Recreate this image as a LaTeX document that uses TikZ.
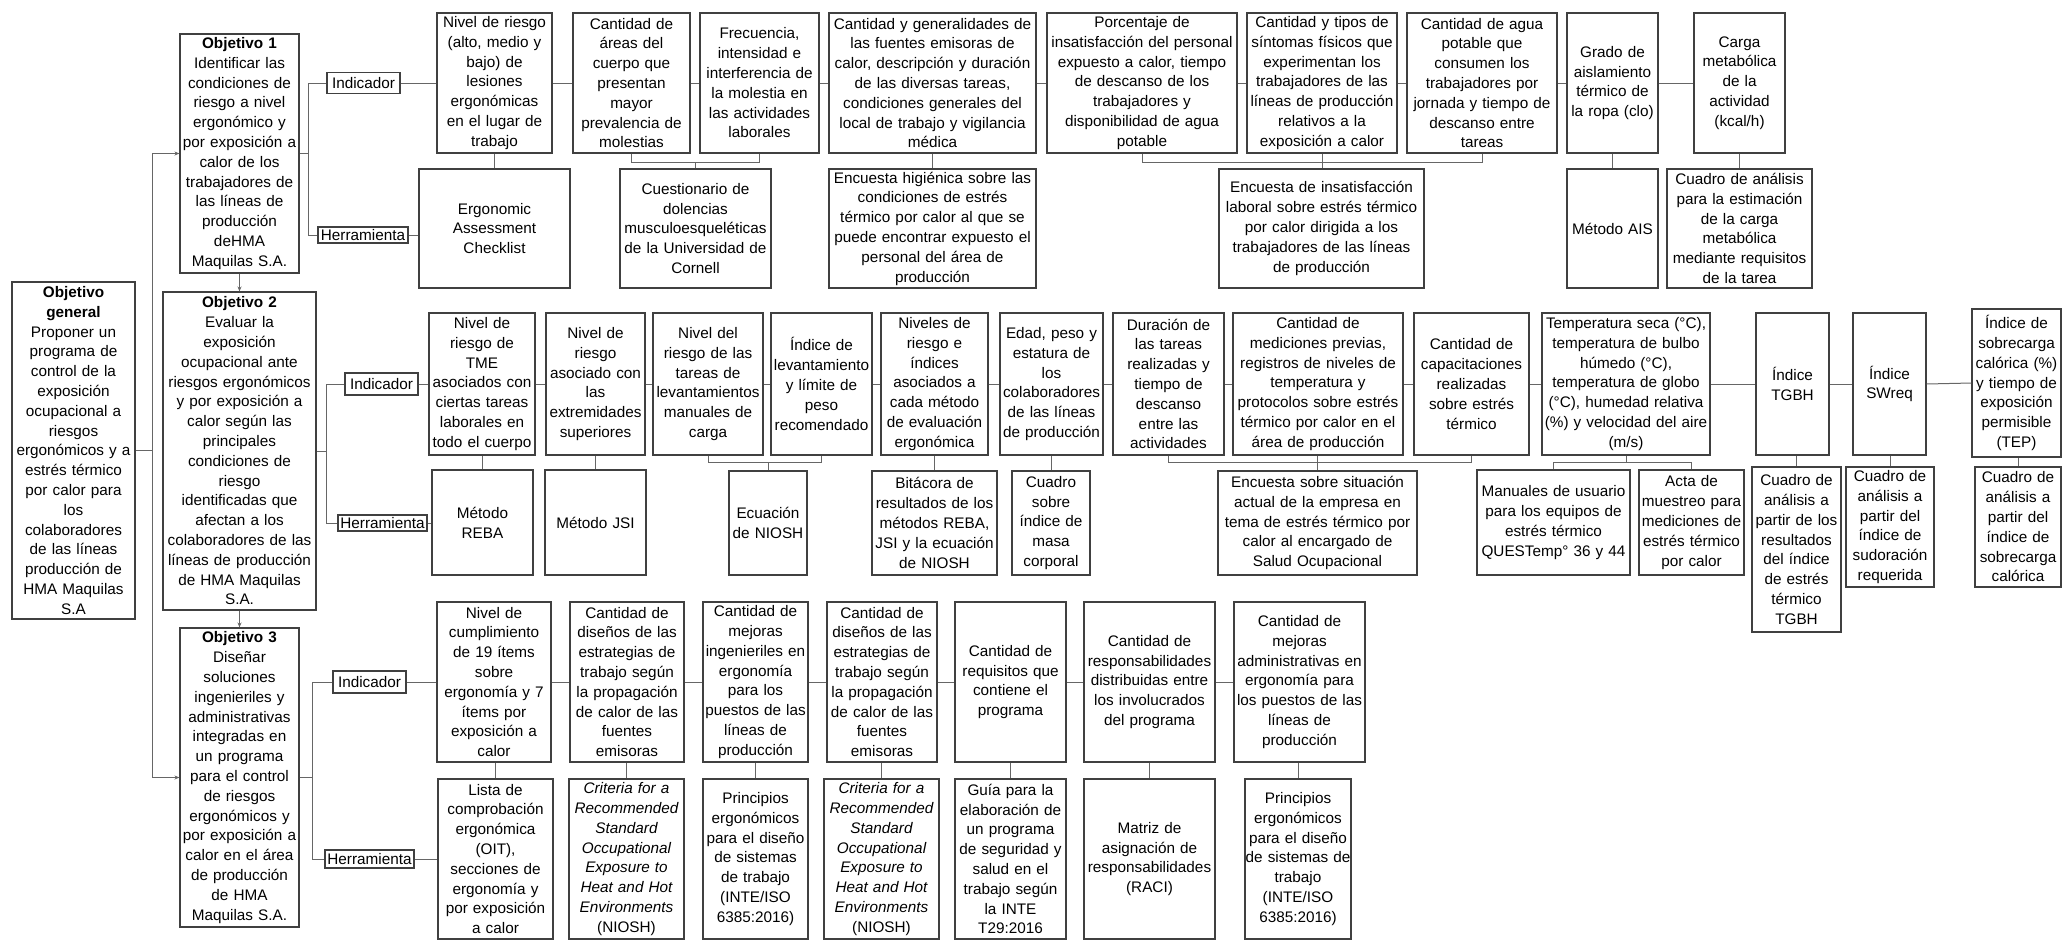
\documentclass[tikz,border=0pt]{standalone}
\usepackage{fontspec}
\setmainfont{Liberation Sans}
\usetikzlibrary{arrows.meta}
\newcommand{\bx}[7]{%
 \pgfmathsetmacro{\mybw}{#5-#3}%
 \pgfmathsetmacro{\mybh}{#6-#4}%
 \pgfmathsetmacro{\mycx}{(#3+#5)/2}%
 \pgfmathsetmacro{\mycy}{(#4+#6)/2}%
 \pgfmathsetmacro{\mytw}{#5-#3-1}%
 \node[#1, minimum width=\mybw pt, minimum height=\mybh pt, text width=\mytw pt] (#2) at (\mycx,\mycy) {#7};}
\begin{document}
\hyphenpenalty=10000
\exhyphenpenalty=10000
\hbadness=10000
\hfuzz=20pt
\begin{tikzpicture}[x=1pt,y=-1pt,
  box/.style={rectangle, draw=black!75, line width=1.1pt, fill=white, inner xsep=0.5pt, inner ysep=0pt, align=center, font=\fontsize{15.3}{19.8}\selectfont},
  lab/.style={box},
  conn/.style={draw=black!60, line width=1pt},
  arr/.style={conn, -{Stealth[length=5pt,width=4pt]}}]
\useasboundingbox (0,0) rectangle (2063,940);

% objectives
\bx{box}{gen}{12}{282}{135}{619}{\textbf{Objetivo}\\\textbf{general}\\Proponer un\\programa de\\control de la\\exposición\\ocupacional a\\riesgos\\ergonómicos y a\\estrés térmico\\por calor para\\los\\colaboradores\\de las líneas\\producción de\\HMA Maquilas\\S.A}
\bx{box}{o1}{180}{34}{299}{273}{\textbf{Objetivo 1}\\Identificar las\\condiciones de\\riesgo a nivel\\ergonómico y\\por exposición a\\calor de los\\trabajadores de\\las líneas de\\producción\\deHMA\\Maquilas S.A.}
\bx{box}{o2}{163}{292}{316}{610}{\textbf{Objetivo 2}\\Evaluar la\\exposición\\ocupacional ante\\riesgos ergonómicos\\y por exposición a\\calor según las\\principales\\condiciones de\\riesgo\\identificadas que\\afectan a los\\colaboradores de las\\líneas de producción\\de HMA Maquilas\\S.A.}
\bx{box}{o3}{180}{628}{299}{927}{\textbf{Objetivo 3}\\Diseñar\\soluciones\\ingenieriles y\\administrativas\\integradas en\\un programa\\para el control\\de riesgos\\ergonómicos y\\por exposición a\\calor en el área\\de producción\\de HMA\\Maquilas S.A.}

% labels
\bx{lab}{ind1}{327}{72.5}{400}{93.5}{Indicador}
\bx{lab}{her1}{318}{227}{408}{243}{Herramienta}
\bx{lab}{ind2}{345}{373}{418}{395}{Indicador}
\bx{lab}{her2}{338}{515}{427}{531}{Herramienta}
\bx{lab}{ind3}{333}{671}{406}{693}{Indicador}
\bx{lab}{her3}{325}{850}{414}{868}{Herramienta}

% row 1 indicators
\bx{box}{r1a}{437}{13}{552}{153}{Nivel de riesgo\\(alto, medio y\\bajo) de\\lesiones\\ergonómicas\\en el lugar de\\trabajo}
\bx{box}{r1b}{573}{13}{690}{153}{Cantidad de\\áreas del\\cuerpo que\\presentan\\mayor\\prevalencia de\\molestias}
\bx{box}{r1c}{700}{13}{819}{153}{Frecuencia,\\intensidad e\\interferencia de\\la molestia en\\las actividades\\laborales}
\bx{box}{r1d}{829}{13}{1036}{153}{Cantidad y generalidades de\\las fuentes emisoras de\\calor, descripción y duración\\de las diversas tareas,\\condiciones generales del\\local de trabajo y vigilancia\\médica}
\bx{box}{r1e}{1047}{13}{1237}{153}{Porcentaje de\\insatisfacción del personal\\expuesto a calor, tiempo\\de descanso de los\\trabajadores y\\disponibilidad de agua\\potable}
\bx{box}{r1f}{1247}{13}{1397}{153}{Cantidad y tipos de\\síntomas físicos que\\experimentan los\\trabajadores de las\\líneas de producción\\relativos a la\\exposición a calor}
\bx{box}{r1g}{1407}{13}{1557}{153}{Cantidad de agua\\potable que\\consumen los\\trabajadores por\\jornada y tiempo de\\descanso entre\\tareas}
\bx{box}{r1h}{1567}{13}{1658}{153}{Grado de\\aislamiento\\térmico de\\la ropa (clo)}
\bx{box}{r1i}{1694}{13}{1785}{153}{Carga\\metabólica\\de la\\actividad\\(kcal/h)}

% row 1 tools
\bx{box}{t1a}{419}{169}{570}{288}{Ergonomic\\Assessment\\Checklist}
\bx{box}{t1b}{620}{169}{771}{288}{Cuestionario de\\dolencias\\musculoesqueléticas\\de la Universidad de\\Cornell}
\bx{box}{t1c}{829}{169}{1036}{288}{Encuesta higiénica sobre las\\condiciones de estrés\\térmico por calor al que se\\puede encontrar expuesto el\\personal del área de\\producción}
\bx{box}{t1d}{1219}{169}{1424}{288}{Encuesta de insatisfacción\\laboral sobre estrés térmico\\por calor dirigida a los\\trabajadores de las líneas\\de producción}
\bx{box}{t1e}{1567}{169}{1658}{288}{Método AIS}
\bx{box}{t1f}{1667}{169}{1812}{288}{Cuadro de análisis\\para la estimación\\de la carga\\metabólica\\mediante requisitos\\de la tarea}

% row 2 indicators
\bx{box}{r2a}{429}{313}{535}{455}{Nivel de\\riesgo de\\TME\\asociados con\\ciertas tareas\\laborales en\\todo el cuerpo}
\bx{box}{r2b}{546}{313}{645}{455}{Nivel de\\riesgo\\asociado con\\las\\extremidades\\superiores}
\bx{box}{r2c}{653}{313}{763}{455}{Nivel del\\riesgo de las\\tareas de\\levantamientos\\manuales de\\carga}
\bx{box}{r2d}{771}{313}{872}{455}{Índice de\\levantamiento\\y límite de\\peso\\recomendado}
\bx{box}{r2e}{881}{313}{988}{455}{Niveles de\\riesgo e\\índices\\asociados a\\cada método\\de evaluación\\ergonómica}
\bx{box}{r2f}{1000}{313}{1103}{455}{Edad, peso y\\estatura de\\los\\colaboradores\\de las líneas\\de producción}
\bx{box}{r2g}{1113}{313}{1224}{455}{Duración de\\las tareas\\realizadas y\\tiempo de\\descanso\\entre las\\actividades}
\bx{box}{r2h}{1233}{313}{1403}{455}{Cantidad de\\mediciones previas,\\registros de niveles de\\temperatura y\\protocolos sobre estrés\\térmico por calor en el\\área de producción}
\bx{box}{r2i}{1414}{313}{1529}{455}{Cantidad de\\capacitaciones\\realizadas\\sobre estrés\\térmico}
\bx{box}{r2j}{1542}{313}{1710}{455}{Temperatura seca (°C),\\temperatura de bulbo\\húmedo (°C),\\temperatura de globo\\(°C), humedad relativa\\(\%) y velocidad del aire\\(m/s)}
\bx{box}{r2k}{1756}{313}{1829}{455}{Índice\\TGBH}
\bx{box}{r2l}{1853}{313}{1926}{455}{Índice\\SWreq}
\bx{box}{r2m}{1972}{309}{2061}{457}{Índice de\\sobrecarga\\calórica (\%)\\y tiempo de\\exposición\\permisible\\(TEP)}

% row 2 tools
\bx{box}{t2a}{432}{470}{533}{575}{Método\\REBA}
\bx{box}{t2b}{545}{470}{646}{575}{Método JSI}
\bx{box}{t2c}{729}{471}{807}{575}{Ecuación\\de NIOSH}
\bx{box}{t2d}{872}{471}{997}{575}{Bitácora de\\resultados de los\\métodos REBA,\\JSI y la ecuación\\de NIOSH}
\bx{box}{t2e}{1012}{471}{1090}{575}{Cuadro\\sobre\\índice de\\masa\\corporal}
\bx{box}{t2f}{1218}{471}{1417}{575}{Encuesta sobre situación\\actual de la empresa en\\tema de estrés térmico por\\calor al encargado de\\Salud Ocupacional}
\bx{box}{t2g}{1477}{470}{1630}{575}{Manuales de usuario\\para los equipos de\\estrés térmico\\QUESTemp° 36 y 44}
\bx{box}{t2h}{1639}{470}{1744}{575}{Acta de\\muestreo para\\mediciones de\\estrés térmico\\por calor}
\bx{box}{t2i}{1752}{467}{1841}{632}{Cuadro de\\análisis a\\partir de los\\resultados\\del índice\\de estrés\\térmico\\TGBH}
\bx{box}{t2j}{1846}{467}{1934}{587}{Cuadro de\\análisis a\\partir del\\índice de\\sudoración\\requerida}
\bx{box}{t2k}{1975}{467}{2061}{587}{Cuadro de\\análisis a\\partir del\\índice de\\sobrecarga\\calórica}

% row 3 indicators
\bx{box}{r3a}{437}{602}{551}{762}{Nivel de\\cumplimiento\\de 19 ítems\\sobre\\ergonomía y 7\\ítems por\\exposición a\\calor}
\bx{box}{r3b}{570}{602}{684}{762}{Cantidad de\\diseños de las\\estrategias de\\trabajo según\\la propagación\\de calor de las\\fuentes\\emisoras}
\bx{box}{r3c}{703}{602}{808}{762}{Cantidad de\\mejoras\\ingenieriles en\\ergonomía\\para los\\puestos de las\\líneas de\\producción}
\bx{box}{r3d}{827}{602}{937}{762}{Cantidad de\\diseños de las\\estrategias de\\trabajo según\\la propagación\\de calor de las\\fuentes\\emisoras}
\bx{box}{r3e}{955}{602}{1066}{762}{Cantidad de\\requisitos que\\contiene el\\programa}
\bx{box}{r3f}{1084}{602}{1215}{762}{Cantidad de\\responsabilidades\\distribuidas entre\\los involucrados\\del programa}
\bx{box}{r3g}{1234}{602}{1365}{762}{Cantidad de\\mejoras\\administrativas en\\ergonomía para\\los puestos de las\\líneas de\\producción}

% row 3 tools
\bx{box}{t3a}{438}{779}{553}{939}{Lista de\\comprobación\\ergonómica\\(OIT),\\secciones de\\ergonomía y\\por exposición\\a calor}
\bx{box}{t3b}{569}{779}{684}{939}{{\itshape Criteria for a\\Recommended\\Standard\\Occupational\\Exposure to\\Heat and Hot\\Environments}\\(NIOSH)}
\bx{box}{t3c}{703}{779}{808}{939}{Principios\\ergonómicos\\para el diseño\\de sistemas\\de trabajo\\(INTE/ISO\\6385:2016)}
\bx{box}{t3d}{824}{779}{939}{939}{{\itshape Criteria for a\\Recommended\\Standard\\Occupational\\Exposure to\\Heat and Hot\\Environments}\\(NIOSH)}
\bx{box}{t3e}{955}{779}{1066}{939}{Guía para la\\elaboración de\\un programa\\de seguridad y\\salud en el\\trabajo según\\la INTE\\T29:2016}
\bx{box}{t3f}{1084}{779}{1215}{939}{Matriz de\\asignación de\\responsabilidades\\(RACI)}
\bx{box}{t3g}{1245}{779}{1351}{939}{Principios\\ergonómicos\\para el diseño\\de sistemas de\\trabajo\\(INTE/ISO\\6385:2016)}

% trunk and objective arrows
\coordinate (tk) at (152,0);
\draw[conn] (gen.east) -- (gen.east -| tk);
\draw[arr] (gen.east -| tk) |- (o1.west);
\draw[arr] (gen.east -| tk) |- (o3.west);
\draw[arr] (o1.south) -- (o2.north);
\draw[arr] (o2.south) -- (o3.north);

% objective brackets
\coordinate (b1) at (308,0);
\coordinate (b2) at (326,0);
\coordinate (b3) at (312,0);
\draw[conn] (o1.east) -- (o1.east -| b1);
\draw[conn] (ind1.west) -| (b1 |- her1.west) -- (her1.west);
\draw[conn] (o2.east) -- (o2.east -| b2);
\draw[conn] (ind2.west) -| (b2 |- her2.west) -- (her2.west);
\draw[conn] (o3.east) -- (o3.east -| b3);
\draw[conn] (ind3.west) -| (b3 |- her3.west) -- (her3.west);

% horizontal chains
\foreach \a/\b in {ind1/r1a,r1a/r1b,r1b/r1c,r1c/r1d,r1d/r1e,r1e/r1f,r1f/r1g,r1g/r1h,r1h/r1i,
  ind2/r2a,r2a/r2b,r2b/r2c,r2c/r2d,r2d/r2e,r2e/r2f,r2f/r2g,r2g/r2h,r2h/r2i,r2i/r2j,r2j/r2k,r2k/r2l,r2l/r2m,
  ind3/r3a,r3a/r3b,r3b/r3c,r3c/r3d,r3d/r3e,r3e/r3f,r3f/r3g}
  \draw[conn] (\a.east) -- (\b.west);
\draw[conn] (her1.east) -- (her1.east -| t1a.west);
\draw[conn] (her2.east) -- (her2.east -| t2a.west);
\draw[conn] (her3.east) -- (her3.east -| t3a.west);

% row 1 verticals
\coordinate (k1) at (0,162);
\draw[conn] (t1a.north) -- (t1a.north |- r1a.south);
\draw[conn] (r1b.south) -- (r1b.south |- k1) -| (r1c.south);
\draw[conn] (t1b.north) -- (t1b.north |- k1);
\draw[conn] (r1d.south) -- (r1d.south |- t1c.north);
\draw[conn] (r1e.south) -- (r1e.south |- k1) -| (r1g.south);
\draw[conn] (r1f.south) -- (r1f.south |- t1d.north);
\draw[conn] (r1h.south) -- (r1h.south |- t1e.north);
\draw[conn] (r1i.south) -- (r1i.south |- t1f.north);

% row 2 verticals
\coordinate (k2) at (0,462);
\draw[conn] (t2a.north) -- (t2a.north |- r2a.south);
\draw[conn] (r2b.south) -- (r2b.south |- t2b.north);
\draw[conn] (r2c.south) -- (r2c.south |- k2) -| (r2d.south);
\draw[conn] (t2c.north) -- (t2c.north |- k2);
\draw[conn] (r2e.south) -- (r2e.south |- t2d.north);
\draw[conn] (t2e.north) -- (t2e.north |- r2f.south);
\draw[conn] (r2g.south) -- (r2g.south |- k2) -| (r2i.south);
\draw[conn] (t2f.north) -- (t2f.north |- r2h.south);
\draw[conn] (r2j.south) -- (r2j.south |- k2);
\draw[conn] (t2g.north) -- (t2g.north |- k2) -| (t2h.north);
\draw[conn] (t2i.north) -- (t2i.north |- r2k.south);
\draw[conn] (t2j.north) -- (t2j.north |- r2l.south);
\draw[conn] (t2k.north) -- (t2k.north |- r2m.south);

% row 3 verticals
\foreach \a/\b in {r3a/t3a,r3b/t3b,r3c/t3c,r3d/t3d,r3e/t3e,r3f/t3f,r3g/t3g}
  \draw[conn] (\b.north) -- (\b.north |- \a.south);
\end{tikzpicture}
\end{document}
